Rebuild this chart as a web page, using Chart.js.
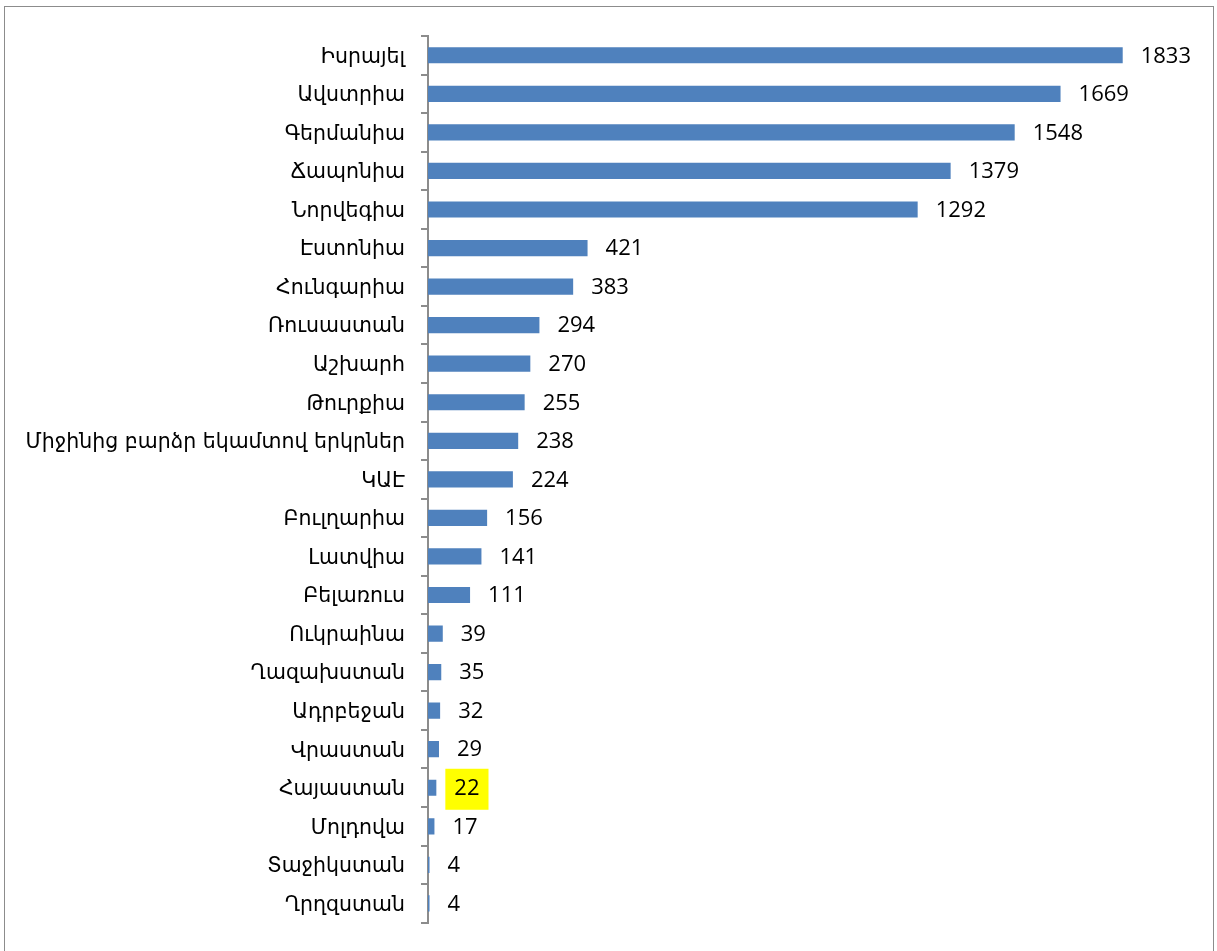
<!DOCTYPE html>
<html>
<head>
<meta charset="utf-8">
<script src="https://cdn.jsdelivr.net/npm/chart.js@4.4.0/dist/chart.umd.min.js"></script>
<style>
  html, body { margin: 0; padding: 0; background: #fff; }
  #wrap { position: relative; width: 1217px; height: 951px; }
  #frame { position: absolute; left: 4px; top: 6px; width: 1210px; height: 960px; border: 1px solid #8c8c8c; box-sizing: border-box; }
  canvas { position: absolute; left: 0; top: 0; }
</style>
</head>
<body>
<div id="wrap">
  <div id="frame"></div>
  <canvas id="barChart" width="1217" height="951"></canvas>
</div>
<script>
// categories, top to bottom
const countries = [
  'Իսրայել', 'Ավստրիա', 'Գերմանիա', 'Ճապոնիա', 'Նորվեգիա', 'Էստոնիա',
  'Հունգարիա', 'Ռուսաստան', 'Աշխարհ', 'Թուրքիա', 'Միջինից բարձր եկամտով երկրներ',
  'ԿԱԷ', 'Բուլղարիա', 'Լատվիա', 'Բելառուս', 'Ուկրաինա', 'Ղազախստան',
  'Ադրբեջան', 'Վրաստան', 'Հայաստան', 'Մոլդովա', 'Տաջիկստան', 'Ղրղզստան'
];
const values = [1833, 1669, 1548, 1379, 1292, 421, 383, 294, 270, 255, 238, 224, 156, 141, 111, 39, 35, 32, 29, 22, 17, 4, 4];
const highlighted = ['Հայաստան'];

const BAR_COLOR = '#4F81BD';
const AXIS_GRAY = '#8c8c8c';

// --- value labels drawn at the end of each bar ---
const valueLabels = {
  id: 'valueLabels',
  afterDatasetsDraw(chart) {
    const ctx = chart.ctx;
    const meta = chart.getDatasetMeta(0);
    ctx.save();
    ctx.font = '22px "Open Sans", sans-serif';
    ctx.textBaseline = 'middle';
    ctx.textAlign = 'left';
    meta.data.forEach((bar, i) => {
      const txt = String(values[i]);
      const x = bar.x + 18;
      const y = bar.y + 1;
      if (highlighted.includes(countries[i])) {
        const w = ctx.measureText(txt).width;
        ctx.fillStyle = '#FFFF00';
        ctx.fillRect(x - 9, y - 20, w + 18, 41);
      }
      ctx.fillStyle = '#000';
      ctx.fillText(txt, x, y);
    });
    ctx.restore();
  }
};

const ctx = document.getElementById('barChart').getContext('2d');
new Chart(ctx, {
  type: 'bar',
  data: {
    labels: countries,
    datasets: [{ data: values, backgroundColor: BAR_COLOR, borderWidth: 0, categoryPercentage: 1, barPercentage: 0.42 }]
  },
  options: {
    indexAxis: 'y',
    responsive: false,
    animation: false,
    layout: { padding: { top: 36, bottom: 24, right: 31, left: 0 } },
    plugins: { legend: { display: false }, tooltip: { enabled: false } },
    scales: {
      x: { display: false, min: 0, max: 2000 },
      y: {
        afterFit: (scale) => { scale.width = 428; },
        border: { display: true, color: AXIS_GRAY, width: 2 },
        grid: { offset: true, drawOnChartArea: false, drawTicks: true, tickLength: 7, color: AXIS_GRAY, lineWidth: 2 },
        ticks: { color: '#000', padding: 16, labelOffset: 2, font: { family: '"DejaVu Sans", sans-serif', size: 20.5 } }
      }
    }
  },
  plugins: [valueLabels]
});
</script>
</body>
</html>
